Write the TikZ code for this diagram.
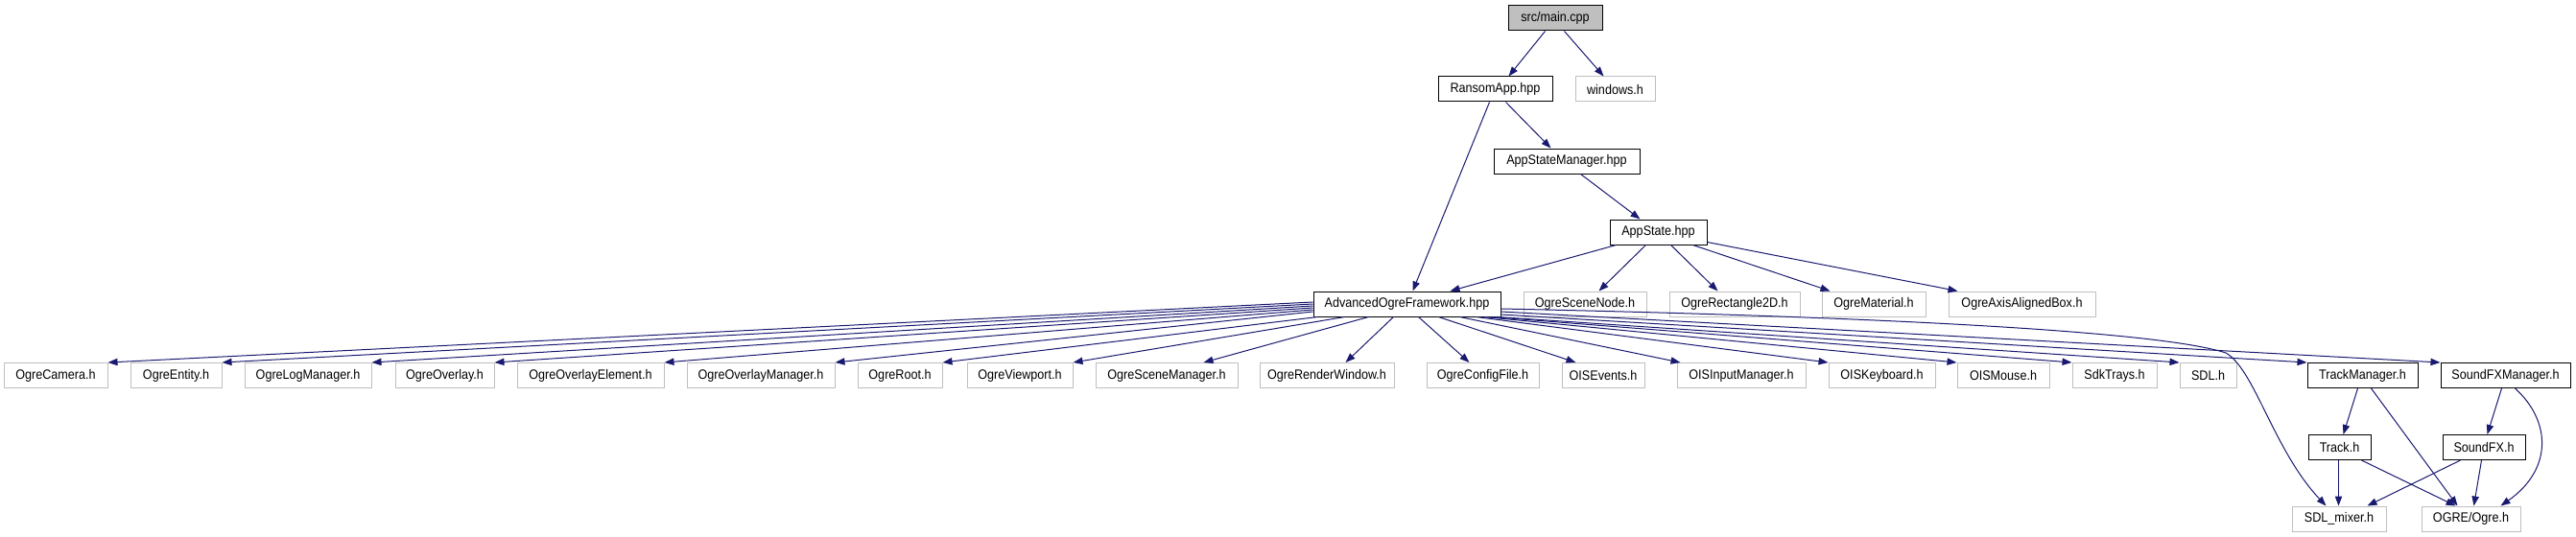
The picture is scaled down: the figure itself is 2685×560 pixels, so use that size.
\documentclass[tikz,border=0pt]{standalone}
\usepackage{fontspec}
\setmainfont{Liberation Sans}[FakeStretch=0.9]
\usetikzlibrary{arrows.meta,calc}
\definecolor{edgeblue}{HTML}{191970}
\definecolor{greyline}{HTML}{BFBFBF}
\begin{document}
\begin{tikzpicture}[x=0.75pt,y=-0.75pt,
  box/.style={draw=black,line width=0.75pt,fill=white,inner sep=0pt,minimum height=19.5pt,font=\fontsize{10.5}{12}\selectfont},
  extbox/.style={box,draw=greyline},
  mainbox/.style={box,fill=greyline},
  bw/.style={minimum width=#1*0.75pt},
  dep/.style={draw=edgeblue,line width=0.75pt,-{Triangle[length=7.5pt,width=5.5pt]}}]
\useasboundingbox (0,0) rectangle (2685,560);
% top part
\node[mainbox,bw=98] (main) at (1621,19) {src/main.cpp};
\node[box,bw=119] (ransom) at (1558.5,93) {RansomApp.hpp};
\node[extbox,bw=83] (windows) at (1683.5,93) {windows.h};
\node[box,bw=152] (asm) at (1633,168) {AppStateManager.hpp};
\node[box,bw=101] (as) at (1728.5,242) {AppState.hpp};
% middle row
\node[box,bw=195] (aof) at (1466.5,317) {AdvancedOgreFramework.hpp};
\node[extbox,bw=128] (scenenode) at (1652,317) {OgreSceneNode.h};
\node[extbox,bw=136] (rect) at (1808,317) {OgreRectangle2D.h};
\node[extbox,bw=108] (mat) at (1953,317) {OgreMaterial.h};
\node[extbox,bw=153] (aab) at (2107.5,317) {OgreAxisAlignedBox.h};
% bottom row
\node[extbox,bw=108] (cam) at (58,391.5) {OgreCamera.h};
\node[extbox,bw=95] (ent) at (183.5,391.5) {OgreEntity.h};
\node[extbox,bw=132] (log) at (321,391.5) {OgreLogManager.h};
\node[extbox,bw=103] (ovl) at (463.5,391.5) {OgreOverlay.h};
\node[extbox,bw=153] (ove) at (615.5,391.5) {OgreOverlayElement.h};
\node[extbox,bw=154] (ovm) at (793,391.5) {OgreOverlayManager.h};
\node[extbox,bw=88] (ogreroot) at (938,391.5) {OgreRoot.h};
\node[extbox,bw=110] (vp) at (1063,391.5) {OgreViewport.h};
\node[extbox,bw=148] (sm) at (1216,391.5) {OgreSceneManager.h};
\node[extbox,bw=140] (rw) at (1383,391.5) {OgreRenderWindow.h};
\node[extbox,bw=117] (cf) at (1545.5,391.5) {OgreConfigFile.h};
\node[extbox,bw=86] (oise) at (1671,391.5) {OISEvents.h};
\node[extbox,bw=134] (oisi) at (1815,391.5) {OISInputManager.h};
\node[extbox,bw=111] (oisk) at (1961.5,391.5) {OISKeyboard.h};
\node[extbox,bw=96] (oism) at (2088,391.5) {OISMouse.h};
\node[extbox,bw=88] (sdk) at (2204,391.5) {SdkTrays.h};
\node[extbox,bw=59] (sdl) at (2301.5,391.5) {SDL.h};
\node[box,bw=115] (tm) at (2462.5,391.5) {TrackManager.h};
\node[box,bw=135] (sfm) at (2611.5,391.5) {SoundFXManager.h};
\node[box,bw=65] (track) at (2438.5,466.5) {Track.h};
\node[box,bw=86] (sfx) at (2589,466.5) {SoundFX.h};
\node[extbox,bw=98] (mixer) at (2438,541) {SDL\_mixer.h};
\node[extbox,bw=103] (ogre) at (2575.5,541) {OGRE/Ogre.h};
% edges top
\draw[dep] ($(main.south west)+(39,0)$) -- ($(ransom.north west)+(74,0)$);
\draw[dep] ($(main.south west)+(59,0)$) -- ($(windows.north west)+(30,0)$);
\draw[dep] ($(ransom.south west)+(71,0)$) -- ($(asm.north west)+(60,0)$);
\draw[dep] ($(ransom.south west)+(54,0)$) -- ($(aof.north west)+(104,0)$);
\draw[dep] ($(asm.south west)+(91,0)$) -- ($(as.north west)+(32,0)$);
\draw[dep] ($(as.south west)+(7,0)$) -- ($(aof.north west)+(143,0)$);
\draw[dep] ($(as.south west)+(38,0)$) -- ($(scenenode.north west)+(79,0)$);
\draw[dep] ($(as.south west)+(64,0)$) -- ($(rect.north west)+(51,0)$);
\draw[dep] ($(as.south west)+(87,0)$) -- ($(mat.north west)+(9,0)$);
\draw[dep] ($(as.south east)+(0,-3)$) -- ($(aab.north west)+(10,0)$);
% edges from AdvancedOgreFramework, left side
\draw[dep] ($(aof.west)+(0,-2)$) -- (cam.north east);
\draw[dep] ($(aof.west)+(0,0)$) -- (ent.north east);
\draw[dep] ($(aof.west)+(0,2)$) -- (log.north east);
\draw[dep] ($(aof.west)+(0,4)$) -- (ovl.north east);
\draw[dep] ($(aof.west)+(0,6)$) -- (ove.north east);
\draw[dep] ($(aof.west)+(0,8)$) -- (ovm.north east);
\draw[dep] ($(aof.south west)+(5,0)$) -- (ogreroot.north east);
\draw[dep] ($(aof.south west)+(33,0)$) -- (vp.north east);
\draw[dep] ($(aof.south west)+(58,0)$) -- ($(sm.north west)+(113,0)$);
\draw[dep] ($(aof.south west)+(84,0)$) -- ($(rw.north west)+(90,0)$);
\draw[dep] ($(aof.south west)+(110,0)$) -- ($(cf.north west)+(45,0)$);
\draw[dep] ($(aof.south west)+(131,0)$) -- ($(oise.north west)+(15,0)$);
\draw[dep] ($(aof.south west)+(153,0)$) -- ($(oisi.north west)+(4,0)$);
% right side
\draw[dep] ($(aof.south east)+(-26,0)$) -- (oisk.north west);
\draw[dep] ($(aof.south east)+(-18,0)$) -- (oism.north west);
\draw[dep] ($(aof.south east)+(-10,0)$) -- (sdk.north west);
\draw[dep] ($(aof.south east)+(-4,0)$) -- (sdl.north west);
\draw[dep] ($(aof.east)+(0,11)$) -- (tm.north west);
\draw[dep] ($(aof.east)+(0,8)$) -- (sfm.north west);
\draw[dep] ($(aof.east)+(0,5)$) .. controls (1950,330) and (2250,345) .. (2320,368)
  .. controls (2350,385) and (2370,470) .. ($(mixer.north west)+(36,0)$);
% lower part
\draw[dep] ($(tm.south west)+(53,0)$) -- ($(track.north west)+(37,0)$);
\draw[dep] ($(tm.south west)+(67,0)$) -- ($(ogre.north west)+(38,0)$);
\draw[dep] ($(sfm.south west)+(64,0)$) -- ($(sfx.north west)+(47,0)$);
\draw[dep] ($(sfm.south west)+(78,0)$) .. controls (2660,440) and (2660,490) .. ($(ogre.north west)+(83,0)$);
\draw[dep] ($(track.south west)+(32,0)$) -- ($(mixer.north west)+(49,0)$);
\draw[dep] ($(track.south west)+(56,0)$) -- ($(ogre.north west)+(36,0)$);
\draw[dep] ($(sfx.south west)+(19,0)$) -- ($(mixer.north west)+(79,0)$);
\draw[dep] ($(sfx.south west)+(41,0)$) -- ($(ogre.north west)+(55,0)$);
\end{tikzpicture}
\end{document}
